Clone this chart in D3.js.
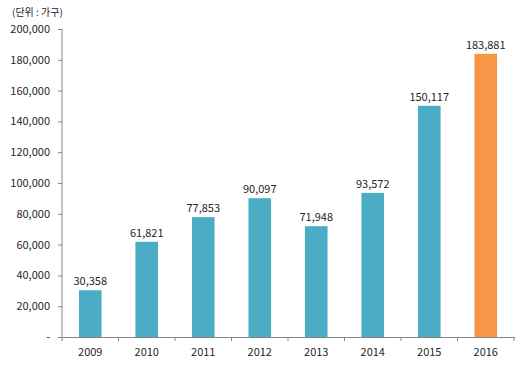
<!DOCTYPE html>
<html>
<head>
<meta charset="utf-8">
<script src="https://cdn.jsdelivr.net/npm/d3@7"></script>
<style>
  body { margin: 0; background: #fff; }
  text { font-family: "Noto Sans CJK KR", "Noto Sans", sans-serif; fill: #262626; }
</style>
</head>
<body>
<div id="chart"></div>
<script>
var years = ["2009", "2010", "2011", "2012", "2013", "2014", "2015", "2016"];
var households = [30358, 61821, 77853, 90097, 71948, 93572, 150117, 183881];
var yTicks = [0, 20000, 40000, 60000, 80000, 100000, 120000, 140000, 160000, 180000, 200000];
var unitLabel = "(단위 : 가구)";

(function () {
    var margin = { top: 29, left: 62, right: 6, bottom: 28 },
        width = 520 - margin.left - margin.right,
        height = 365 - margin.top - margin.bottom;

    var svg = d3.select("#chart")
        .append("svg")
        .attr("width", 520)
        .attr("height", 365)
        .append("g")
        .attr("transform", "translate(" + margin.left + "," + margin.top + ")");

    var x = d3.scaleBand()
        .domain(years)
        .range([0, width])
        .paddingInner(0.6)
        .paddingOuter(0.3);

    var y = d3.scaleLinear()
        .domain([0, 200000])
        .range([height, 0]);

    var fmt = d3.format(",");

    // y axis
    var yAxis = svg.append("g")
        .call(d3.axisLeft(y).tickValues(yTicks).tickSize(4).tickPadding(8)
            .tickFormat(function (d) { return d === 0 ? "-" : fmt(d); }));
    yAxis.selectAll("text").style("font-size", "11px");

    // x axis with ticks at category boundaries
    var xAxis = svg.append("g")
        .attr("transform", "translate(0," + height + ")")
        .call(d3.axisBottom(x).tickSize(0).tickPadding(11));
    xAxis.selectAll("text").style("font-size", "11px");
    var step = x.step();
    var bounds = d3.range(years.length + 1).map(function (i) { return i * width / years.length; });
    xAxis.selectAll(".bound")
        .data(bounds)
        .enter().append("line")
        .attr("class", "bound")
        .attr("x1", function (d) { return d; })
        .attr("x2", function (d) { return d; })
        .attr("y1", 0).attr("y2", 4);

    svg.selectAll(".domain, .tick line, .bound")
        .attr("stroke", "#868686");
    yAxis.select(".domain").attr("d", "M0," + height + "V0");

    // bars
    svg.selectAll(".bar")
        .data(households)
        .enter().append("rect")
        .attr("class", "bar")
        .attr("x", function (d, i) { return x(years[i]); })
        .attr("width", x.bandwidth())
        .attr("y", function (d) { return y(d); })
        .attr("height", function (d) { return height - y(d); })
        .attr("fill", function (d, i) { return i === years.length - 1 ? "#F79646" : "#4BACC6"; });

    // value labels
    svg.selectAll(".val")
        .data(households)
        .enter().append("text")
        .attr("class", "val")
        .attr("x", function (d, i) { return x(years[i]) + x.bandwidth() / 2; })
        .attr("y", function (d) { return y(d) - 5; })
        .attr("text-anchor", "middle")
        .style("font-size", "11px")
        .text(function (d) { return fmt(d); });

    // unit label
    d3.select("svg").append("text")
        .attr("x", 12)
        .attr("y", 16)
        .style("font-size", "10px")
        .text(unitLabel);
})()
</script>
</body>
</html>
